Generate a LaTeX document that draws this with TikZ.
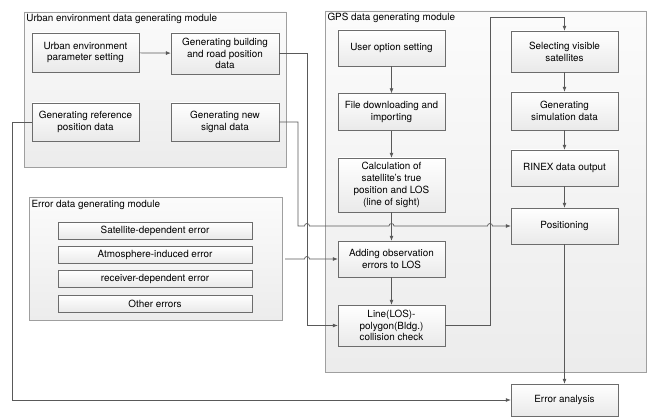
\documentclass[tikz,border=0pt]{standalone}
\usepackage{fontspec}
\setmainfont{TeX Gyre Heros}
\usepackage{xcolor}
\usepackage{tikz}
\usetikzlibrary{arrows.meta}

\begin{document}
\begin{tikzpicture}[x=1pt,y=-1pt,>={Latex[length=5pt,width=4pt]},
font=\fontsize{9.9}{11.8}\selectfont,
module/.style={draw=gray!75,top color=gray!3,bottom color=gray!15,inner sep=0pt},
blk/.style={draw=gray!85!black,top color=white,bottom color=gray!17,align=center,inner sep=1pt,minimum width=107pt},
errbar/.style={blk,minimum width=194pt,minimum height=17pt},
link/.style={draw=black!65,line width=0.7pt}]
\useasboundingbox (0,0) rectangle (648,417);

\node[module,minimum width=262pt,minimum height=155pt] (urbmod) at (155,89.5) {};
\node[anchor=north west,inner sep=2.5pt] (urbtitle) at (urbmod.north west) {Urban environment data generating module};
\node[module,minimum width=253pt,minimum height=123pt] (errmod) at (155.5,259) {};
\node[anchor=north west,inner sep=2.5pt] (errtitle) at (errmod.north west) {Error data generating module};
\node[module,minimum width=321pt,minimum height=361pt] (gpsmod) at (485.5,191.5) {};
\node[anchor=north west,inner sep=2.5pt] (gpstitle) at (gpsmod.north west) {GPS data generating module};

\node[blk,minimum height=39pt] (ueparam) at (85.5,52.5) {Urban environment\\parameter setting};
\node[blk,minimum width=108pt,minimum height=41pt] (bldg) at (225,53.5) {Generating building\\and road position\\data};
\node[blk,minimum height=38pt] (refpos) at (85.5,122) {Generating reference\\position data};
\node[blk,minimum width=108pt,minimum height=38pt] (newsig) at (225,122) {Generating new\\signal data};

\node[errbar] (saterr) at (155,230.5) {Satellite-dependent error};
\node[errbar] (atmerr) at (155,255) {Atmosphere-induced error};
\node[errbar] (rcverr) at (155,279) {receiver-dependent error};
\node[errbar] (othererr) at (155,303.5) {Other errors};

\node[blk,minimum height=36pt] (useropt) at (391.5,48) {User option setting};
\node[blk,minimum height=37pt] (filedl) at (391.5,112) {File downloading and\\importing};
\node[blk,minimum height=54pt] (calc) at (391.5,185) {Calculation of\\satellite's true\\position and LOS\\(line of sight)};
\node[blk,minimum height=36pt] (adderr) at (391.5,259) {Adding observation\\errors to LOS};
\node[blk,minimum height=41pt] (collide) at (391.5,325.5) {Line(LOS)-\\polygon(Bldg.)\\collision check};

\node[blk,minimum height=41pt] (selsat) at (564.5,51.5) {Selecting visible\\satellites};
\node[blk,minimum height=38pt] (simdata) at (564.5,111) {Generating\\simulation data};
\node[blk,minimum height=36pt] (rinex) at (564.5,168) {RINEX data output};
\node[blk,minimum height=36pt] (pos) at (564.5,226) {Positioning};
\node[blk,minimum height=32pt] (erran) at (564.5,400) {Error analysis};

\coordinate (bturn) at (307,53.5);
\coordinate (sturn) at (298,122);
\coordinate (rturn) at (12,122);
\coordinate (cturn) at (490,17);

\draw[link,->] (ueparam) -- (bldg);
\draw[link,->] (bldg.east) -- (bturn) |- (collide.west);
\draw[link,->] (newsig.east) -- (sturn) |- (304.5,226)
arc[start angle=180,end angle=0,radius=2.5pt] -- (389,226)
arc[start angle=180,end angle=0,radius=2.5pt] -- (487.5,226)
arc[start angle=180,end angle=0,radius=2.5pt] -- (pos.west);
\draw[link,->] ([xshift=3pt]errmod.east) -- (304.5,259)
arc[start angle=180,end angle=0,radius=2.5pt] -- (adderr.west);
\draw[link,->] (refpos.west) -- (rturn) |- (erran.west);
\draw[link,->] (collide.east) -| (cturn) -| (selsat.north);

\draw[link,->] (useropt) -- (filedl);
\draw[link,->] (filedl) -- (calc);
\draw[link,->] (calc) -- (adderr);
\draw[link,->] (adderr) -- (collide);
\draw[link,->] (selsat) -- (simdata);
\draw[link,->] (simdata) -- (rinex);
\draw[link,->] (rinex) -- (pos);
\draw[link,->] (pos) -- (erran);
\end{tikzpicture}
\end{document}
